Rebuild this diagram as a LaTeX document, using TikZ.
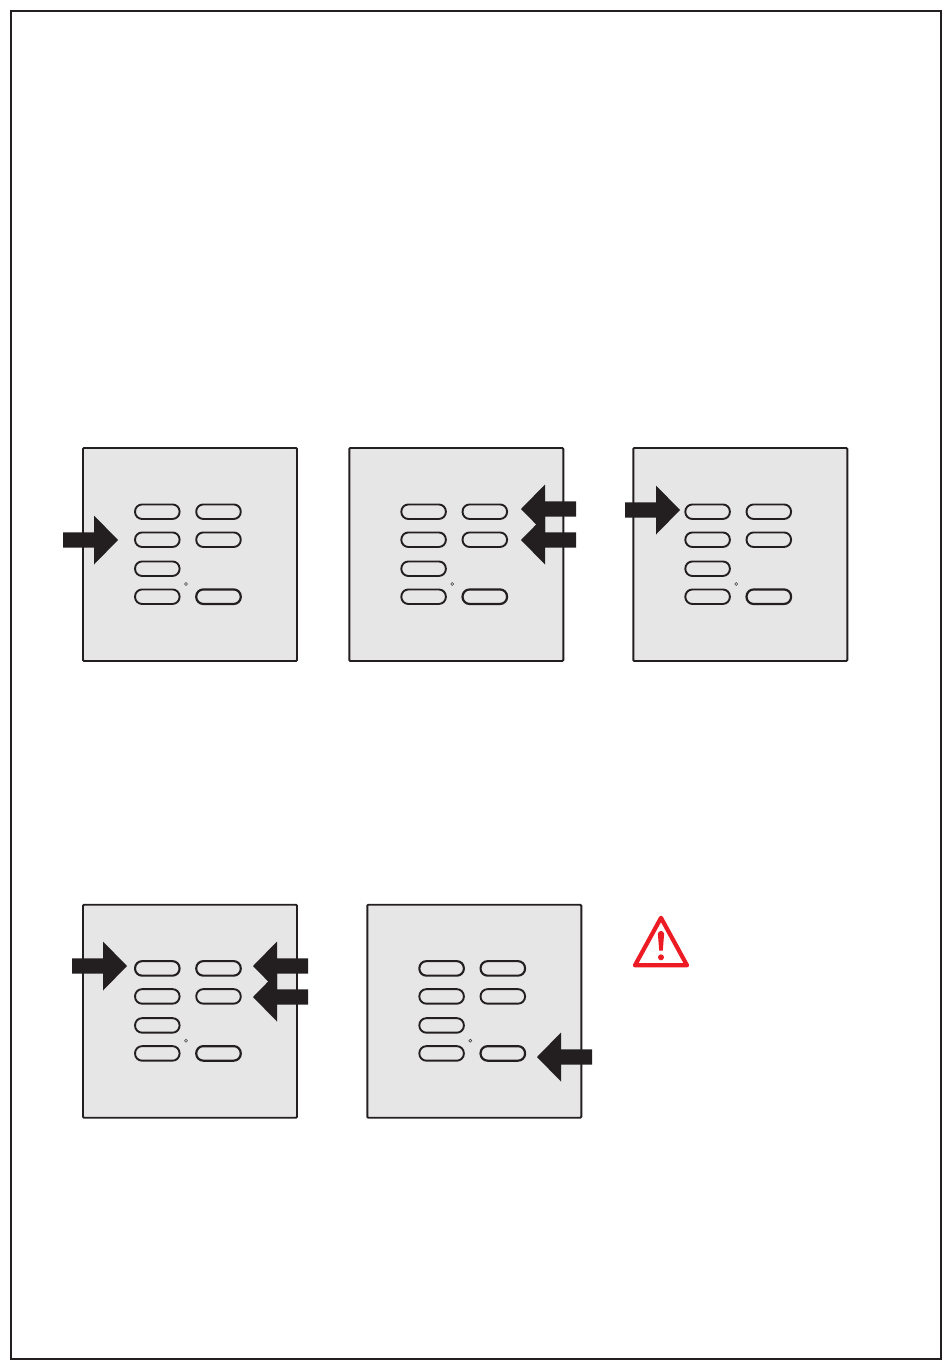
\documentclass[tikz,border=0pt]{standalone}
\definecolor{ink}{HTML}{231F20}
\definecolor{panelfill}{HTML}{E6E6E6}
\definecolor{warn}{HTML}{ED1C24}
\tikzset{
  frame/.style={draw=ink,line width=2pt},
  panelbox/.style={draw=ink,fill=panelfill,line width=1.9pt,rounded corners=1pt},
  keybtn/.style={draw=ink,line width=1.9pt,rounded corners=7pt,minimum width=44.5pt,minimum height=14.5pt,inner sep=0pt,outer sep=0pt},
  keyheavy/.style={keybtn,line width=2.2pt},
  keypressed/.style={keybtn,line width=2.1pt,append after command={
    \pgfextra{\draw[panelfill!40!white,line width=.7pt] ([xshift=8pt]\tikzlastnode.north west) -- ([xshift=-8pt]\tikzlastnode.north east)
      ([xshift=8pt]\tikzlastnode.south west) -- ([xshift=-8pt]\tikzlastnode.south east);}}},
  led/.style={circle,draw=ink!85,fill=panelfill,line width=.6pt,minimum size=3pt,inner sep=0pt},
  bigarrow/.style={fill=ink,draw=none},
}
% #1 name, #2 x, #3 y, #4 style of the two upper keys
\newcommand{\keypanel}[4]{%
  \begin{scope}[shift={(#2,#3)}]
    \path[panelbox] (0,0) rectangle (214,213);
    \node[#4] (#1a) at (74.3,63.7) {};
    \node[#4] (#1b) at (135.5,63.7) {};
    \node[keybtn] (#1c) at (74.3,91.7) {};
    \node[keybtn] (#1d) at (135.5,91.7) {};
    \node[keybtn] (#1e) at (74.3,120.7) {};
    \node[keybtn] (#1f) at (74.3,148.7) {};
    \node[keyheavy] (#1g) at (135.5,148.7) {};
    \node[led] (#1h) at (103,136) {};
  \end{scope}}
% #1 tail x, #2 head-base x, #3 tip x, #4 centre y
\newcommand{\pointer}[4]{%
  \path[bigarrow] (#1,#4-7.7) -- (#2,#4-7.7) -- (#2,#4-24.5) -- (#3,#4) -- (#2,#4+24.5) -- (#2,#4+7.7) -- (#1,#4+7.7) -- cycle;}
\begin{document}
\begin{tikzpicture}[x=1pt,y=-1pt]
  \useasboundingbox (0,0) rectangle (950,1369);
  \path[frame] (10.7,10.7) rectangle (941,1359.3);
  \keypanel{p}{83}{448}{keybtn}
  \keypanel{q}{349.3}{448}{keybtn}
  \keypanel{r}{633.3}{448}{keybtn}
  \keypanel{s}{83}{904.7}{keypressed}
  \keypanel{t}{367.3}{904.7}{keypressed}
  \pointer{63}{94}{118}{540}
  \pointer{576}{545}{521}{509}
  \pointer{576}{545}{521}{540}
  \pointer{625}{656}{680}{510}
  \pointer{72}{103}{127}{966}
  \pointer{308}{277}{253}{966}
  \pointer{308}{277}{253}{997}
  \pointer{592}{561}{537}{1057}
  \draw[warn,line width=4.2pt,line join=round] (661,917.8) -- (687,965.3) -- (635,965.3) -- cycle;
  \fill[warn] (661,934) circle[radius=3.1];
  \fill[warn] (657.9,934) -- (664.1,934) -- (662.8,950.5) -- (659.2,950.5) -- cycle;
  \fill[warn] (661,957.3) circle[radius=3];
\end{tikzpicture}
\end{document}
